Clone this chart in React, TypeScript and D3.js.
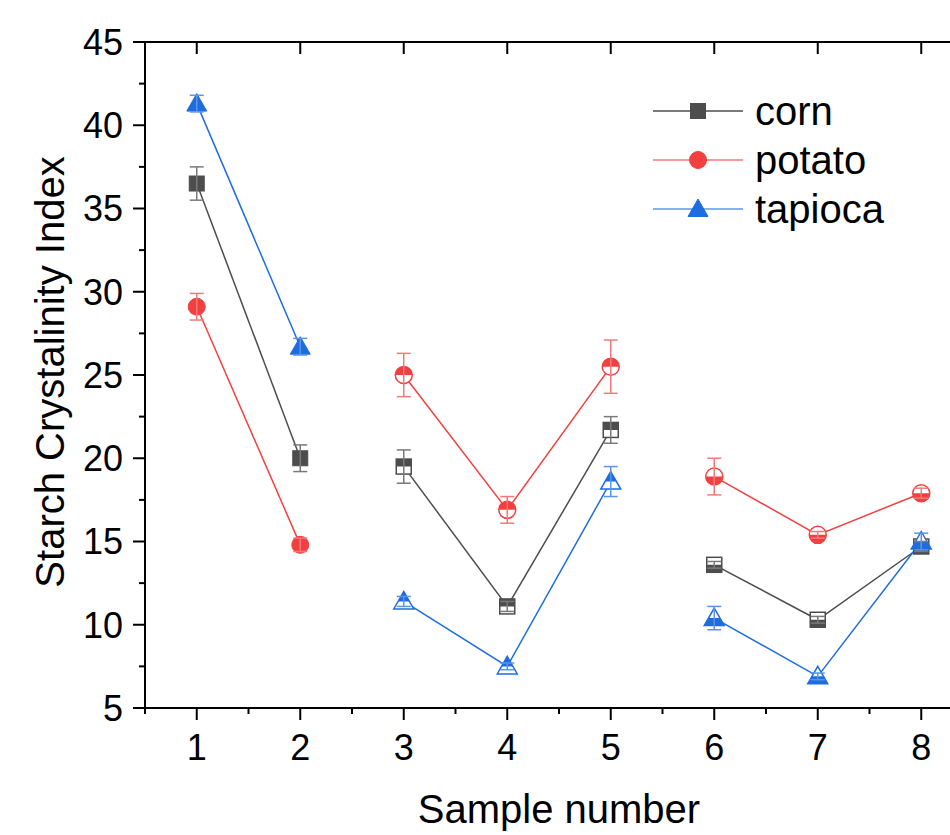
import * as d3 from 'd3';
import React from 'react';

const samples = [1, 2, 3, 4, 5, 6, 7, 8];
const cornValues = [36.5, 20.0, 19.5, 11.1, 21.7, 13.6, 10.3, 14.7];
const cornErrors = [1.0, 0.8, 1.0, 0.3, 0.8, 0.2, 0.2, 0.3];
const potatoValues = [29.1, 14.8, 25.0, 16.9, 25.5, 18.9, 15.4, 17.9];
const potatoErrors = [0.8, 0.4, 1.3, 0.8, 1.6, 1.1, 0.2, 0.3];
const tapiocaValues = [41.3, 26.7, 11.4, 7.5, 18.6, 10.4, 6.9, 15.0];
const tapiocaErrors = [0.5, 0.5, 0.3, 0.2, 0.9, 0.7, 0.2, 0.5];
// segments drawn as separate lines, and the marker fill style for each
const groups = [[1, 2], [3, 4, 5], [6, 7, 8]];
const fillStyles = ['full', 'full', 'top', 'top', 'top', 'bottom', 'bottom', 'bottom'];
const yTicks = [5, 10, 15, 20, 25, 30, 35, 40, 45];

const series = [
	{ name: 'corn', values: cornValues, errors: cornErrors, color: '#4d4d4d', err: '#7a7a7a', shape: 'square' },
	{ name: 'potato', values: potatoValues, errors: potatoErrors, color: '#f24040', err: '#f47a7a', shape: 'circle' },
	{ name: 'tapioca', values: tapiocaValues, errors: tapiocaErrors, color: '#1d6de0', err: '#5b95e8', shape: 'triangle' },
];

const font = '"Liberation Sans", Arial, sans-serif';

const Marker = ({ shape, color, fill }: { shape: string; color: string; fill: string }) => {
	let el: (p: any) => React.ReactElement;
	if (shape === 'square') el = (p) => <rect x={-7.5} y={-7.5} width={15} height={15} {...p} />;
	else if (shape === 'circle') el = (p) => <circle r={8.5} {...p} />;
	else el = (p) => <path d="M0,-10L10,7.5L-10,7.5Z" {...p} />;
	if (fill === 'full') return el({ fill: color, stroke: color, strokeWidth: 1 });
	return (
		<g>
			{el({ fill: 'white', stroke: color, strokeWidth: 1.5 })}
			{el({ fill: color, stroke: 'none', clipPath: fill === 'top' ? 'url(#clipTop)' : 'url(#clipBottom)' })}
		</g>
	);
};

const App = () => {
	const margin = { left: 145, top: 42, bottom: 708, right: 973 };
	const x = d3.scaleLinear().domain([0.5, 8.5]).range([margin.left, margin.right]);
	const y = d3.scaleLinear().domain([5, 45]).range([margin.bottom, margin.top]);

	const yMinor = d3.range(5, 45.01, 2.5);
	const xMinor = d3.range(0.5, 8.51, 0.5);

	return (
		<svg width={950} height={835} style={{ position: 'absolute', left: 0, top: 0 }} fontFamily={font}>
			<defs>
				<clipPath id="clipTop"><rect x={-15} y={-15} width={30} height={15} /></clipPath>
				<clipPath id="clipBottom"><rect x={-15} y={0} width={30} height={15} /></clipPath>
			</defs>
			<rect width={950} height={835} fill="white" />

			{/* axes */}
			<g stroke="black" strokeWidth={2}>
				<line x1={margin.left} x2={margin.left} y1={margin.top} y2={margin.bottom + 1} />
				<line x1={margin.left - 1} x2={950} y1={margin.bottom} y2={margin.bottom} />
				<line x1={margin.left - 1} x2={950} y1={margin.top} y2={margin.top} />
				{yMinor.map((v) => (
					<line key={'y' + v} x1={margin.left} x2={margin.left - (v % 5 === 0 ? 12 : 6)} y1={y(v)} y2={y(v)} />
				))}
				{xMinor.map((v) => (
					<line key={'x' + v} x1={x(v)} x2={x(v)} y1={margin.bottom} y2={margin.bottom + (v % 1 === 0 ? 12 : 6)} />
				))}
				{samples.map((v) => (
					<line key={'t' + v} x1={x(v)} x2={x(v)} y1={margin.top} y2={margin.top + 12} />
				))}
			</g>
			<g fontSize={36} fill="black">
				{yTicks.map((v) => (
					<text key={v} x={123} y={y(v)} dy="0.36em" textAnchor="end">{v}</text>
				))}
				{samples.map((v) => (
					<text key={v} x={x(v)} y={760} textAnchor="middle">{v}</text>
				))}
			</g>
			<text x={559} y={823} fontSize={40} textAnchor="middle">Sample number</text>
			<text transform={`translate(64,${(margin.top + margin.bottom) / 2 - 3}) rotate(-90)`} fontSize={40} textAnchor="middle">
				Starch Crystalinity Index
			</text>

			{/* lines */}
			{series.map((s) => (
				<g key={s.name + 'l'}>
					{groups.map((g, i) => (
						<path
							key={i}
							d={d3.line<number>().x((n) => x(n)).y((n) => y(s.values[n - 1]))(g) ?? ''}
							fill="none"
							stroke={s.color}
							strokeWidth={1.5}
						/>
					))}
				</g>
			))}

			{/* markers */}
			{series.map((s) => (
				<g key={s.name + 'm'}>
					{samples.map((n, i) => (
						<g key={n} transform={`translate(${x(n)},${y(s.values[i])})`}>
							<Marker shape={s.shape} color={s.color} fill={fillStyles[i]} />
						</g>
					))}
				</g>
			))}

			{/* error bars */}
			{series.map((s) => (
				<g key={s.name + 'e'} stroke={s.err} strokeWidth={1.5}>
					{samples.map((n, i) => {
						const cx = x(n);
						const top = y(s.values[i] + s.errors[i]);
						const bot = y(s.values[i] - s.errors[i]);
						return (
							<g key={n}>
								<line x1={cx} x2={cx} y1={top} y2={bot} />
								<line x1={cx - 7} x2={cx + 7} y1={top} y2={top} />
								<line x1={cx - 7} x2={cx + 7} y1={bot} y2={bot} />
							</g>
						);
					})}
				</g>
			))}

			{/* legend */}
			{series.map((s, i) => {
				const ly = 111 + i * 49;
				return (
					<g key={s.name + 'leg'}>
						<line x1={653} x2={743} y1={ly} y2={ly} stroke={s.color} strokeWidth={1.5} opacity={s.name === 'corn' ? 1 : 0.7} />
						<g transform={`translate(698,${ly})`}>
							<Marker shape={s.shape} color={s.color} fill="full" />
						</g>
						<text x={755} y={ly} dy="0.36em" fontSize={40}>{s.name}</text>
					</g>
				);
			})}
		</svg>
	);
};

export default App;
